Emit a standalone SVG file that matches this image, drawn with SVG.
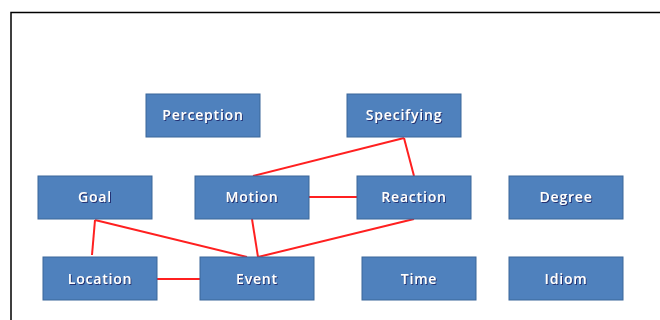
<svg xmlns="http://www.w3.org/2000/svg" width="660" height="320" viewBox="0 0 660 320">
<defs>
<style>
.box{fill:#4F81BD;stroke:#3B6699;stroke-width:1}
.lbl{font-family:"Open Sans","Liberation Sans",sans-serif;font-size:14px;font-weight:600;fill:#FFFFFF;text-anchor:middle;letter-spacing:0.8px;filter:url(#sh)}
.edge{stroke:#FF2020;stroke-width:2;fill:none}
</style>
<filter id="sh" x="-10%" y="-30%" width="120%" height="160%">
<feDropShadow dx="1" dy="1" stdDeviation="0.6" flood-color="#1A2A6C" flood-opacity="0.9"/>
</filter>
</defs>
<rect width="660" height="320" fill="#FFFFFF"/>
<path d="M11,320 V12.5 H660" stroke="#000" stroke-width="1.5" fill="none"/>
<g id="connectors">
<line class="edge" x1="253" y1="176" x2="404" y2="138"/>
<line class="edge" x1="404" y1="138" x2="414" y2="176"/>
<line class="edge" x1="309" y1="197" x2="357" y2="197"/>
<line class="edge" x1="95" y1="220" x2="92" y2="255"/>
<line class="edge" x1="95" y1="220" x2="247" y2="257"/>
<line class="edge" x1="252" y1="219" x2="258" y2="257"/>
<line class="edge" x1="258" y1="257" x2="414" y2="219"/>
<line class="edge" x1="157" y1="279" x2="200" y2="279"/>
</g>
<g id="perception"><rect class="box" x="146" y="94" width="114" height="43"/><text class="lbl" x="203" y="120">Perception</text></g>
<g id="specifying"><rect class="box" x="347" y="94" width="114" height="43"/><text class="lbl" x="404" y="120">Specifying</text></g>
<g id="goal"><rect class="box" x="38" y="176" width="114" height="43"/><text class="lbl" x="95" y="202">Goal</text></g>
<g id="motion"><rect class="box" x="195" y="176" width="114" height="43"/><text class="lbl" x="252" y="202">Motion</text></g>
<g id="reaction"><rect class="box" x="357" y="176" width="114" height="43"/><text class="lbl" x="414" y="202">Reaction</text></g>
<g id="degree"><rect class="box" x="509" y="176" width="114" height="43"/><text class="lbl" x="566" y="202">Degree</text></g>
<g id="location"><rect class="box" x="43" y="257" width="114" height="43"/><text class="lbl" x="100" y="284">Location</text></g>
<g id="event"><rect class="box" x="200" y="257" width="114" height="43"/><text class="lbl" x="257" y="284">Event</text></g>
<g id="time"><rect class="box" x="362" y="257" width="114" height="43"/><text class="lbl" x="419" y="284">Time</text></g>
<g id="idiom"><rect class="box" x="509" y="257" width="114" height="43"/><text class="lbl" x="566" y="284">Idiom</text></g>
</svg>
